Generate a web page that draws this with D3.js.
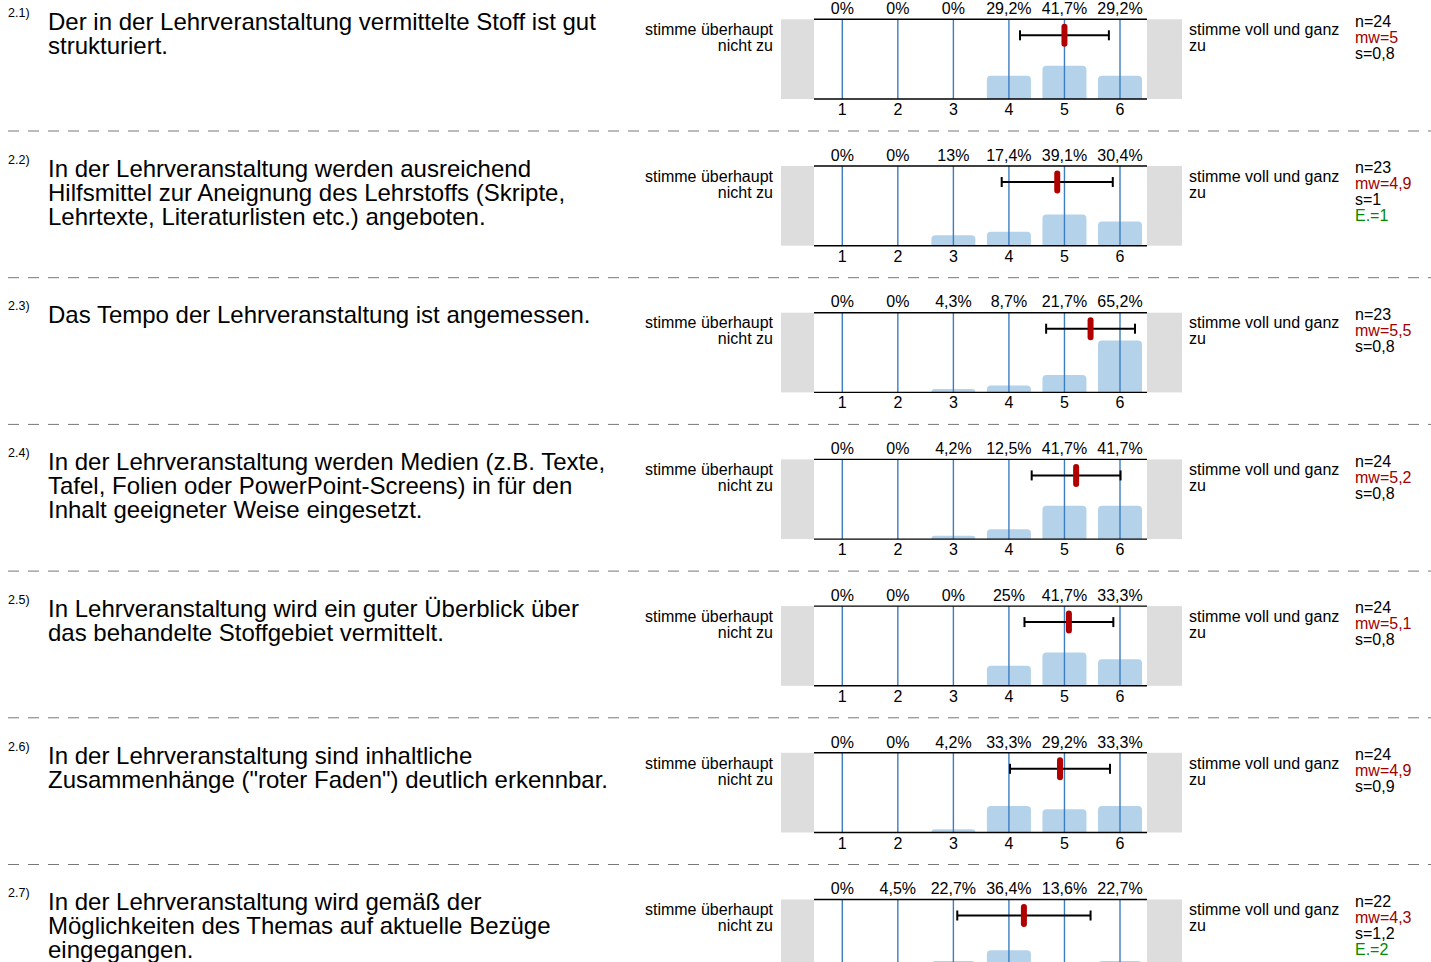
<!DOCTYPE html>
<html>
<head>
<meta charset="utf-8">
<script src="https://cdn.jsdelivr.net/npm/d3@7"></script>
<style>
  body { margin: 0; background: #fff; }
  svg text { font-family: "Liberation Sans", Arial, sans-serif; }
</style>
</head>
<body>
<div id="chart"></div>
<script>
// question numbers + text lines
var qNums = ["2.1)", "2.2)", "2.3)", "2.4)", "2.5)", "2.6)", "2.7)"];
var questions = [
  ["Der in der Lehrveranstaltung vermittelte Stoff ist gut", "strukturiert."],
  ["In der Lehrveranstaltung werden ausreichend", "Hilfsmittel zur Aneignung des Lehrstoffs (Skripte,", "Lehrtexte, Literaturlisten etc.) angeboten."],
  ["Das Tempo der Lehrveranstaltung ist angemessen."],
  ["In der Lehrveranstaltung werden Medien (z.B. Texte,", "Tafel, Folien oder PowerPoint-Screens) in für den", "Inhalt geeigneter Weise eingesetzt."],
  ["In Lehrveranstaltung wird ein guter Überblick über", "das behandelte Stoffgebiet vermittelt."],
  ["In der Lehrveranstaltung sind inhaltliche", "Zusammenhänge (\"roter Faden\") deutlich erkennbar."],
  ["In der Lehrveranstaltung wird gemäß der", "Möglichkeiten des Themas auf aktuelle Bezüge", "eingegangen."]
];
var scalePts = [1, 2, 3, 4, 5, 6];
// percentages per answer 1..6
var pcts = [
  [0, 0, 0, 29.2, 41.7, 29.2],
  [0, 0, 13, 17.4, 39.1, 30.4],
  [0, 0, 4.3, 8.7, 21.7, 65.2],
  [0, 0, 4.2, 12.5, 41.7, 41.7],
  [0, 0, 0, 25, 41.7, 33.3],
  [0, 0, 4.2, 33.3, 29.2, 33.3],
  [0, 4.5, 22.7, 36.4, 13.6, 22.7]
];
var pctLabels = [
  ["0%", "0%", "0%", "29,2%", "41,7%", "29,2%"],
  ["0%", "0%", "13%", "17,4%", "39,1%", "30,4%"],
  ["0%", "0%", "4,3%", "8,7%", "21,7%", "65,2%"],
  ["0%", "0%", "4,2%", "12,5%", "41,7%", "41,7%"],
  ["0%", "0%", "0%", "25%", "41,7%", "33,3%"],
  ["0%", "0%", "4,2%", "33,3%", "29,2%", "33,3%"],
  ["0%", "4,5%", "22,7%", "36,4%", "13,6%", "22,7%"]
];
var nVals = [24, 23, 23, 24, 24, 24, 22];
var means = [5.0, 4.87, 5.47, 5.21, 5.08, 4.92, 4.27];
var mwLabels = ["5", "4,9", "5,5", "5,2", "5,1", "4,9", "4,3"];
var sVals = [0.8, 1, 0.8, 0.8, 0.8, 0.9, 1.2];
var sLabels = ["0,8", "1", "0,8", "0,8", "0,8", "0,9", "1,2"];
var eVals = [null, 1, null, null, null, null, 2];

var width = 1431, height = 962;
var rowH = 146.7;
var plotTop = 19.3, plotH = 79.7;

var svg = d3.select("#chart").append("svg")
  .attr("width", width)
  .attr("height", height);

var x = d3.scaleLinear().domain([1, 6]).range([842.3, 1120]);
var h = d3.scaleLinear().domain([0, 100]).range([0, plotH]);

// rounded-top bar path
function barPath(x0, y0, w, hh, r) {
  if (hh <= 0) return "";
  r = Math.min(r, hh, w / 2);
  return "M" + x0 + "," + (y0 + hh) +
    " V" + (y0 + r) +
    " Q" + x0 + "," + y0 + " " + (x0 + r) + "," + y0 +
    " H" + (x0 + w - r) +
    " Q" + (x0 + w) + "," + y0 + " " + (x0 + w) + "," + (y0 + r) +
    " V" + (y0 + hh) + " Z";
}

questions.forEach(function(q, i) {
  var g = svg.append("g").attr("transform", "translate(0," + (i * rowH) + ")");

  g.append("text").attr("x", 8).attr("y", 17)
    .attr("font-size", "12.5px").attr("fill", "#000").text(qNums[i]);

  g.selectAll("text.q").data(q).enter().append("text")
    .attr("class", "q")
    .attr("x", 48).attr("y", function(d, j) { return 30 + j * 24; })
    .attr("font-size", "24px").attr("fill", "#000")
    .text(function(d) { return d; });

  // left / right labels
  var ll = g.append("text").attr("text-anchor", "end").attr("font-size", "16px");
  ll.append("tspan").attr("x", 773).attr("y", 35).text("stimme überhaupt");
  ll.append("tspan").attr("x", 773).attr("y", 51).text("nicht zu");
  var rl = g.append("text").attr("font-size", "16px");
  rl.append("tspan").attr("x", 1189).attr("y", 35).text("stimme voll und ganz");
  rl.append("tspan").attr("x", 1189).attr("y", 51).text("zu");

  // grey end boxes
  g.append("rect").attr("x", 781).attr("y", plotTop).attr("width", 33).attr("height", plotH).attr("fill", "#dddddd");
  g.append("rect").attr("x", 1147).attr("y", plotTop).attr("width", 35).attr("height", plotH).attr("fill", "#dddddd");

  // bars
  g.selectAll("path.bar").data(pcts[i]).enter().append("path")
    .attr("class", "bar")
    .attr("fill", "#b4d3ea")
    .attr("d", function(d, j) {
      return barPath(x(scalePts[j]) - 22, plotTop + plotH - h(d), 44, h(d), 4);
    });

  // vertical scale lines
  g.selectAll("line.v").data(scalePts).enter().append("line")
    .attr("class", "v")
    .attr("x1", function(d) { return x(d); }).attr("x2", function(d) { return x(d); })
    .attr("y1", plotTop).attr("y2", plotTop + plotH)
    .attr("stroke", "#3c7dc0").attr("stroke-width", 1.4);

  // top & bottom lines
  g.append("line").attr("x1", 814).attr("x2", 1147).attr("y1", plotTop).attr("y2", plotTop)
    .attr("stroke", "#000").attr("stroke-width", 1.4);
  g.append("line").attr("x1", 814).attr("x2", 1147).attr("y1", plotTop + plotH).attr("y2", plotTop + plotH)
    .attr("stroke", "#000").attr("stroke-width", 1.4);

  // percent labels
  g.selectAll("text.p").data(pctLabels[i]).enter().append("text")
    .attr("class", "p").attr("text-anchor", "middle")
    .attr("x", function(d, j) { return x(scalePts[j]); }).attr("y", 14)
    .attr("font-size", "16px").text(function(d) { return d; });

  // tick numbers
  g.selectAll("text.t").data(scalePts).enter().append("text")
    .attr("class", "t").attr("text-anchor", "middle")
    .attr("x", function(d) { return x(d); }).attr("y", 115)
    .attr("font-size", "16px").text(function(d) { return d; });

  // error bar (mean +- s)
  var ey = plotTop + 16;
  var lo = means[i] - sVals[i], hi = means[i] + sVals[i];
  g.append("line").attr("x1", x(lo)).attr("x2", x(hi)).attr("y1", ey).attr("y2", ey)
    .attr("stroke", "#000").attr("stroke-width", 2);
  [lo, hi].forEach(function(v) {
    g.append("line").attr("x1", x(v)).attr("x2", x(v)).attr("y1", ey - 5).attr("y2", ey + 5)
      .attr("stroke", "#000").attr("stroke-width", 2);
  });
  g.append("rect").attr("x", x(means[i]) - 3).attr("y", ey - 11.5)
    .attr("width", 6).attr("height", 23).attr("rx", 3)
    .attr("fill", "#b00000");

  // stats
  var st = [{t: "n=" + nVals[i], c: "#000"}, {t: "mw=" + mwLabels[i], c: "#a00000"}, {t: "s=" + sLabels[i], c: "#000"}];
  if (eVals[i] != null) st.push({t: "E.=" + eVals[i], c: "#008a00"});
  g.selectAll("text.s").data(st).enter().append("text")
    .attr("class", "s").attr("x", 1355).attr("y", function(d, j) { return 26.5 + j * 16; })
    .attr("font-size", "16px").attr("fill", function(d) { return d.c; })
    .text(function(d) { return d.t; });

  // dashed separator
  if (i < questions.length - 1) {
    g.append("line").attr("x1", 8).attr("x2", 1431).attr("y1", 131).attr("y2", 131)
      .attr("stroke", "#777").attr("stroke-width", 1).attr("stroke-dasharray", "11,9");
  }
});
</script>
</body>
</html>
